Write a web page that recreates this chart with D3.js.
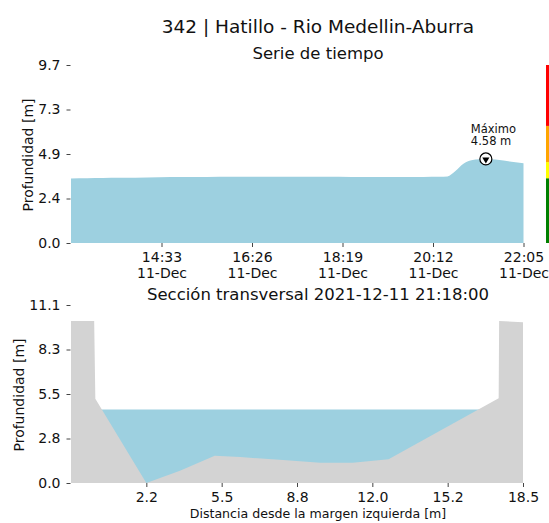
<!DOCTYPE html>
<html>
<head>
<meta charset="utf-8">
<script src="https://cdn.jsdelivr.net/npm/d3@7"></script>
<style>
  html, body { margin: 0; padding: 0; background: #fff; }
  svg { display: block; font-family: "DejaVu Sans", sans-serif; }
  .tick line { stroke: #444; }
  .tick text { fill: #111; }
</style>
</head>
<body>
<svg id="chart" width="549" height="523"></svg>
<script>
// ---------- data ----------
const mainTitle = "342 | Hatillo - Rio Medellin-Aburra";
const seriesTitle = "Serie de tiempo";
const sectionTitle = "Sección transversal 2021-12-11 21:18:00";
const yLabel = "Profundidad [m]";
const xLabelSection = "Distancia desde la margen izquierda [m]";
const day = "2021-12-11";

const seriesTimes = ["12:40","13:00","13:20","13:40","14:00","14:30","15:00","15:30","16:00","16:30","17:00","17:30","18:00","18:30","19:00","19:30","20:00","20:20","20:30","20:40","20:50","21:00","21:10","21:18","21:30","21:40","21:50","22:00","22:05"];
const seriesDepth = [3.52,3.53,3.54,3.55,3.56,3.58,3.59,3.60,3.61,3.61,3.61,3.61,3.61,3.60,3.60,3.59,3.60,3.61,3.63,3.92,4.32,4.51,4.57,4.58,4.55,4.50,4.43,4.37,4.34];
const timeDomain = ["12:40","22:05"];
const timeTicks = ["14:33","16:26","18:19","20:12","22:05"];
const timeTickDate = "11-Dec";
const seriesYTicks = [0, 2.425, 4.85, 7.275, 9.7];
const seriesYTickLabels = ["0.0","2.4","4.9","7.3","9.7"];
const maxTime = "21:18";
const maxDepth = 4.58;
const maxLabel = ["Máximo", "4.58 m"];

const alertLevels = [0, 3.53, 4.41, 6.38, 9.7];
const alertColors = ["#008000", "#ffff00", "#ffa500", "#ff0000"];

const profileX = [-1.0, 0.0, 0.05, 2.25, 3.7, 5.2, 6.3, 8.15, 9.75, 11.15, 12.7, 17.45, 17.47, 18.5];
const profileY = [10.1, 10.1, 5.25, 0.0, 0.77, 1.70, 1.62, 1.43, 1.27, 1.27, 1.48, 5.28, 10.1, 10.02];
const waterLevel = 4.58;
const sectionXDomain = [-1.0, 18.5];
const sectionXTicks = [2.25, 5.5, 8.75, 12.0, 15.25, 18.5];
const sectionXTickLabels = ["2.2","5.5","8.8","12.0","15.2","18.5"];
const sectionYTicks = [0, 2.775, 5.55, 8.325, 11.1];
const sectionYTickLabels = ["0.0","2.8","5.5","8.3","11.1"];

// ---------- styles ----------
const BLUE = "#9dd0e0";
const GRAY = "#d3d3d3";
const svg = d3.select("#chart");
const parseT = t => new Date(day + "T" + t + ":00");

// ---------- titles ----------
svg.append("text").attr("x", 318).attr("y", 33).attr("text-anchor", "middle")
  .attr("font-size", 18.5).attr("fill", "#111").text(mainTitle);
svg.append("text").attr("x", 318).attr("y", 59).attr("text-anchor", "middle")
  .attr("font-size", 16.5).attr("fill", "#111").text(seriesTitle);

// ---------- top: time series ----------
const xT = d3.scaleTime().domain(timeDomain.map(parseT)).range([71, 523.5]);
const yT = d3.scaleLinear().domain([0, 9.7]).range([243, 65]);
const series = seriesTimes.map((t, i) => ({ t: parseT(t), v: seriesDepth[i] }));

svg.append("path").datum(series)
  .attr("fill", BLUE)
  .attr("d", d3.area().x(d => xT(d.t)).y0(yT(0)).y1(d => yT(d.v)).curve(d3.curveMonotoneX));

// alert colour bar
const bands = alertColors.map((c, i) => ({ lo: alertLevels[i], hi: alertLevels[i + 1], c }));
svg.append("g").selectAll("rect").data(bands).join("rect")
  .attr("x", 546).attr("width", 5)
  .attr("y", d => yT(d.hi)).attr("height", d => yT(d.lo) - yT(d.hi))
  .attr("fill", d => d.c);

// y axis
const gyT = svg.append("g").attr("transform", "translate(70.5,0)")
  .call(d3.axisLeft(yT).tickValues(seriesYTicks).tickFormat((d, i) => seriesYTickLabels[i]).tickSize(4).tickPadding(6));
gyT.select(".domain").remove();
gyT.selectAll(".tick text").attr("font-size", 14).attr("font-family", "DejaVu Sans");

// x axis (two-line labels)
const gxT = svg.append("g").attr("transform", "translate(0,243)")
  .call(d3.axisBottom(xT).tickValues(timeTicks.map(parseT)).tickFormat(() => "").tickSize(4).tickPadding(5));
gxT.select(".domain").remove();
gxT.selectAll(".tick text").each(function (d, i) {
  const t = d3.select(this).attr("font-size", 14).attr("font-family", "DejaVu Sans");
  t.append("tspan").attr("x", 0).text(timeTicks[i]);
  t.append("tspan").attr("x", 0).attr("dy", 16).text(timeTickDate);
});

svg.append("text").attr("transform", `translate(33,155) rotate(-90)`)
  .attr("text-anchor", "middle").attr("font-size", 14).attr("fill", "#111").text(yLabel);

// max marker
const mx = xT(parseT(maxTime)), my = yT(maxDepth);
svg.append("circle").attr("cx", mx).attr("cy", my).attr("r", 6)
  .attr("fill", "#fff").attr("stroke", "#000").attr("stroke-width", 1.2);
svg.append("path").attr("transform", `translate(${mx},${my + 0.5}) rotate(180)`)
  .attr("d", d3.symbol(d3.symbolTriangle, 22)()).attr("fill", "#000");
const ann = svg.append("text").attr("font-size", 11.5).attr("fill", "#111");
maxLabel.forEach((s, i) => ann.append("tspan").attr("x", mx - 15).attr("y", 132.5 + i * 12.5).text(s));

// ---------- bottom: cross section ----------
svg.append("text").attr("x", 318).attr("y", 300).attr("text-anchor", "middle")
  .attr("font-size", 16.5).attr("fill", "#111").text(sectionTitle);

const xS = d3.scaleLinear().domain(sectionXDomain).range([71, 523]);
const yS = d3.scaleLinear().domain([0, 11.1]).range([483, 305]);
const profile = profileX.map((x, i) => ({ x, y: profileY[i] }));

// water up to level, terrain drawn over it
svg.append("path").datum(profile)
  .attr("fill", BLUE)
  .attr("d", d3.area().x(d => xS(d.x)).y0(yS(0)).y1(yS(waterLevel)));
svg.append("path").datum(profile)
  .attr("fill", GRAY)
  .attr("d", d3.area().x(d => xS(d.x)).y0(yS(0)).y1(d => yS(d.y)));

const gyS = svg.append("g").attr("transform", "translate(70.5,0)")
  .call(d3.axisLeft(yS).tickValues(sectionYTicks).tickFormat((d, i) => sectionYTickLabels[i]).tickSize(4).tickPadding(6));
gyS.select(".domain").remove();
gyS.selectAll(".tick text").attr("font-size", 14).attr("font-family", "DejaVu Sans");

const gxS = svg.append("g").attr("transform", "translate(0,483)")
  .call(d3.axisBottom(xS).tickValues(sectionXTicks).tickFormat((d, i) => sectionXTickLabels[i]).tickSize(4).tickPadding(5));
gxS.select(".domain").remove();
gxS.selectAll(".tick text").attr("font-size", 14).attr("font-family", "DejaVu Sans");

svg.append("text").attr("transform", `translate(24,395) rotate(-90)`)
  .attr("text-anchor", "middle").attr("font-size", 14).attr("fill", "#111").text(yLabel);
svg.append("text").attr("x", 318).attr("y", 518).attr("text-anchor", "middle")
  .attr("font-size", 12.6).attr("fill", "#111").text(xLabelSection);
</script>
</body>
</html>
